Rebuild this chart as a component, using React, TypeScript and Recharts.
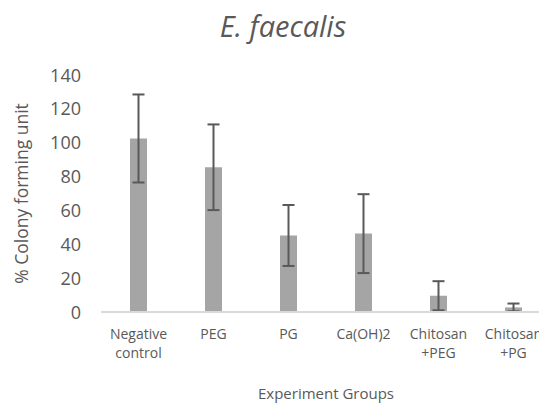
import React from 'react';
import { BarChart, Bar, XAxis, YAxis, ErrorBar, Label } from 'recharts';

const groups = ['Negative control', 'PEG', 'PG', 'Ca(OH)2', 'Chitosan +PEG', 'Chitosan +PG'];
const cfuPercent = [102.5, 85.5, 45.2, 46.3, 9.6, 2.7];
const cfuError = [26, 25.3, 18, 23.3, 8.6, 2.3];
const yTicks = [0, 20, 40, 60, 80, 100, 120, 140];

const chartData = groups.map((name, i) => ({
  name,
  value: cfuPercent[i],
  err: cfuError[i],
}));

const FONT = '"Open Sans", "Noto Sans", sans-serif';
const TEXT = '#595959';

// category labels wrap onto two lines like the original
const GroupTick = (props: any) => {
  const { x, y, payload } = props;
  const lines = String(payload.value).split(' ');
  return (
    <text x={x} y={y} textAnchor="middle" fill={TEXT} fontSize={14} fontFamily={FONT}>
      {lines.map((line: string, i: number) => (
        <tspan key={i} x={x} dy={19}>
          {line}
        </tspan>
      ))}
    </text>
  );
};

const ValueTick = (props: any) => {
  const { x, y, payload } = props;
  return (
    <text x={x} y={y} dy={6.5} textAnchor="end" fill={TEXT} fontSize={18} fontFamily={FONT}>
      {payload.value}
    </text>
  );
};

const App: React.FC = () => {
  return (
    <div
      style={{
        position: 'absolute',
        left: 0,
        top: 0,
        width: 539,
        height: 403,
        overflow: 'hidden',
        background: '#fff',
      }}
    >
      <div
        style={{
          position: 'absolute',
          left: 0,
          width: 566,
          top: 8,
          textAlign: 'center',
          fontFamily: FONT,
          fontStyle: 'italic',
          fontSize: 29,
          color: TEXT,
          lineHeight: '36px',
        }}
      >
        E. faecalis
      </div>
      <BarChart
        width={566}
        height={403}
        data={chartData}
        margin={{ top: 75, right: 15, left: 0, bottom: 0 }}
      >
        <XAxis
          dataKey="name"
          axisLine={{ stroke: '#D9D9D9', strokeWidth: 2 }}
          tickLine={false}
          tick={<GroupTick />}
          interval={0}
          height={91}
        >
          <Label
            value="Experiment Groups"
            position="insideBottom"
            offset={4}
            fill={TEXT}
            fontSize={15}
            fontFamily={FONT}
          />
        </XAxis>
        <YAxis
          domain={[0, 140]}
          ticks={yTicks}
          axisLine={false}
          tickLine={false}
          width={101}
          tickMargin={14}
          tick={<ValueTick />}
        >
          <Label
            value="% Colony forming unit"
            angle={-90}
            position="insideLeft"
            offset={22}
            style={{ textAnchor: 'middle' }}
            fill={TEXT}
            fontSize={17.5}
            fontFamily={FONT}
          />
        </YAxis>
        <Bar dataKey="value" fill="#A5A5A5" barSize={17} isAnimationActive={false}>
          <ErrorBar dataKey="err" width={6} stroke="#595959" strokeWidth={2} direction="y" />
        </Bar>
      </BarChart>
    </div>
  );
};

export default App;
